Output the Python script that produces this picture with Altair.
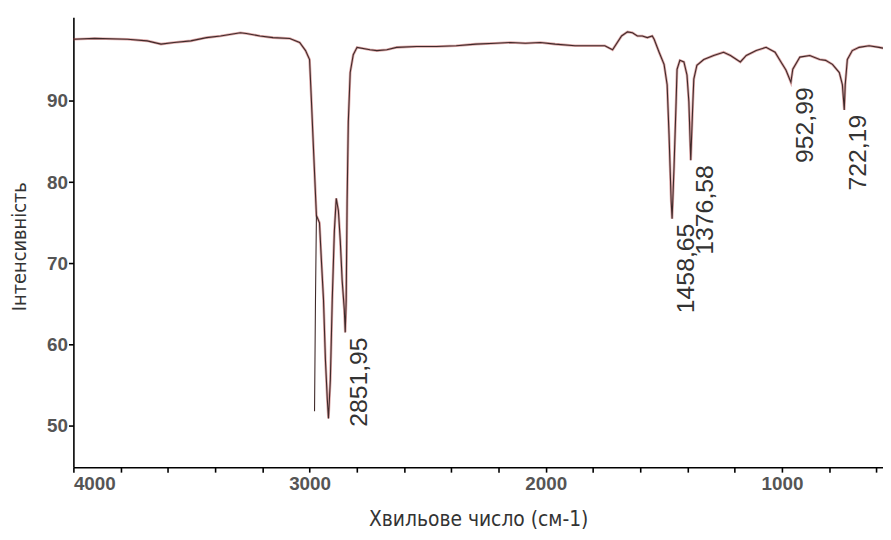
import altair as alt
import pandas as pd

# IR spectrum trace (wavenumber cm-1, intensity %)
wavenumber = [4000, 3910, 3771, 3688, 3629, 3574, 3503, 3436, 3377, 3293,
              3268, 3210, 3155, 3084, 3042, 3017, 3000, 2992, 2983, 2971,
              2958, 2950, 2941, 2933, 2925, 2920, 2912, 2904, 2895, 2887,
              2878, 2870, 2862, 2853, 2849, 2845, 2841, 2836, 2828, 2815,
              2799, 2744, 2715, 2673, 2631, 2547, 2463, 2379, 2296, 2212,
              2149, 2086, 2023, 1960, 1876, 1792, 1750, 1717, 1679, 1654,
              1633, 1612, 1591, 1570, 1549, 1541, 1520, 1499, 1486, 1478,
              1469, 1465, 1457, 1448, 1444, 1432, 1415, 1402, 1394, 1386,
              1377, 1373, 1360, 1331, 1289, 1247, 1218, 1176, 1151, 1109,
              1067, 1029, 1004, 983, 962, 954, 924, 882, 840, 815,
              786, 757, 744, 736, 732, 723, 702, 673, 631, 589,
              572]
intensity = [97.6, 97.7, 97.6, 97.4, 97.0, 97.2, 97.4, 97.8, 98.0, 98.4,
             98.3, 98.0, 97.8, 97.7, 97.2, 96.2, 95.1, 89.9, 83.8, 75.9,
             75.0, 70.4, 65.5, 58.2, 53.3, 50.9, 55.7, 65.5, 74.0, 78.0,
             76.5, 72.8, 67.9, 64.3, 61.5, 65.5, 77.7, 87.4, 93.5, 95.7,
             96.6, 96.3, 96.2, 96.3, 96.6, 96.7, 96.7, 96.8, 97.0, 97.1,
             97.2, 97.1, 97.2, 97.0, 96.8, 96.8, 96.8, 96.3, 98.0, 98.5,
             98.4, 98.0, 98.0, 97.8, 98.0, 97.6, 96.0, 94.5, 92.0, 85.9,
             77.7, 75.5, 81.7, 89.9, 93.9, 95.0, 94.8, 93.2, 89.9, 82.7,
             89.9, 92.7, 94.4, 95.1, 95.6, 96.0, 95.6, 94.8, 95.6, 96.2,
             96.6, 96.0, 94.8, 93.8, 92.3, 93.9, 95.4, 95.6, 95.1, 95.0,
             94.5, 93.5, 92.0, 88.9, 92.0, 95.1, 96.2, 96.6, 96.8, 96.6,
             96.5]

# second overlaid trace branch at the big C-H band
branch_wn = [2971, 2975, 2979]
branch_int = [75.9, 65.5, 51.8]

# labelled peaks
peak_wn = [2849, 1465, 1386, 962, 736]
peak_int = [61.5, 75.5, 82.7, 92.3, 88.9]
peak_labels = ["2851,95", "1458,65", "1376,58", "952,99", "722,19"]

x_ticks = list(range(4000, 599, -200))
y_ticks = [50, 60, 70, 80, 90]

df = pd.DataFrame({"wn": wavenumber, "t": intensity, "idx": range(len(wavenumber))})
df_b = pd.DataFrame({"wn": branch_wn, "t": branch_int, "idx": range(len(branch_wn))})
df_p = pd.DataFrame({"wn": peak_wn, "t": peak_int, "label": peak_labels})

COND = "DejaVu Sans Condensed, DejaVu Sans, sans-serif"
TICKF = "Liberation Sans, Arial, sans-serif"

x_enc = alt.X("wn:Q",
              scale=alt.Scale(domain=[4000, 572], nice=False, zero=False),
              axis=alt.Axis(values=x_ticks, format="d",
                            labelExpr="datum.value % 1000 == 0 ? datum.label : ''",
                            labelOverlap=False,
                            title="Хвильове число (см-1)",
                            titleFont=COND, titleFontSize=21, titleFontWeight="normal",
                            titleColor="#333", titleBaseline="middle", titleY=53,
                            labelFont=TICKF, labelFontSize=19, labelFontWeight="bold",
                            labelColor="#555", labelPadding=3, tickSize=5,
                            grid=False))
y_enc = alt.Y("t:Q",
              scale=alt.Scale(domain=[44.9, 100.3], nice=False, zero=False),
              axis=alt.Axis(values=y_ticks,
                            title="Інтенсивність",
                            titleFont=COND, titleFontSize=20, titleFontWeight="normal",
                            titleColor="#333", titleBaseline="middle", titleAlign="center",
                            titleX=-54, titleY=231, titleAngle=270,
                            labelFont=TICKF, labelFontSize=19, labelFontWeight="bold",
                            labelColor="#555", labelPadding=1, tickSize=5,
                            grid=False))

base = alt.Chart(df).encode(x=x_enc, y=y_enc, order="idx:Q")
red = base.mark_line(color="#b23a3a", strokeWidth=2.6, opacity=0.45, interpolate="linear")
dark = base.mark_line(color="#3f2a2a", strokeWidth=1.1)

branch = alt.Chart(df_b).mark_line(color="#3f2a2a", strokeWidth=1.1).encode(
    x="wn:Q", y="t:Q", order="idx:Q")

labels = alt.Chart(df_p).mark_text(
    angle=270, align="right", baseline="middle", dx=-5, dy=14,
    fontSize=25, font="Liberation Sans, Arial, sans-serif", color="#333"
).encode(x="wn:Q", y="t:Q", text="label:N")

chart = alt.layer(red, dark, branch, labels).properties(
    width=817, height=454,
    autosize=alt.AutoSizeParams(type="none"),
    padding={"left": 66, "top": 7, "right": 0, "bottom": 62},
    background="white",
).configure_view(stroke=None).configure_axis(
    domainColor="black", domainWidth=1.6, tickColor="black", tickWidth=1.6
)

chart.save("out.html", embed_options={"renderer": "svg", "actions": False})
